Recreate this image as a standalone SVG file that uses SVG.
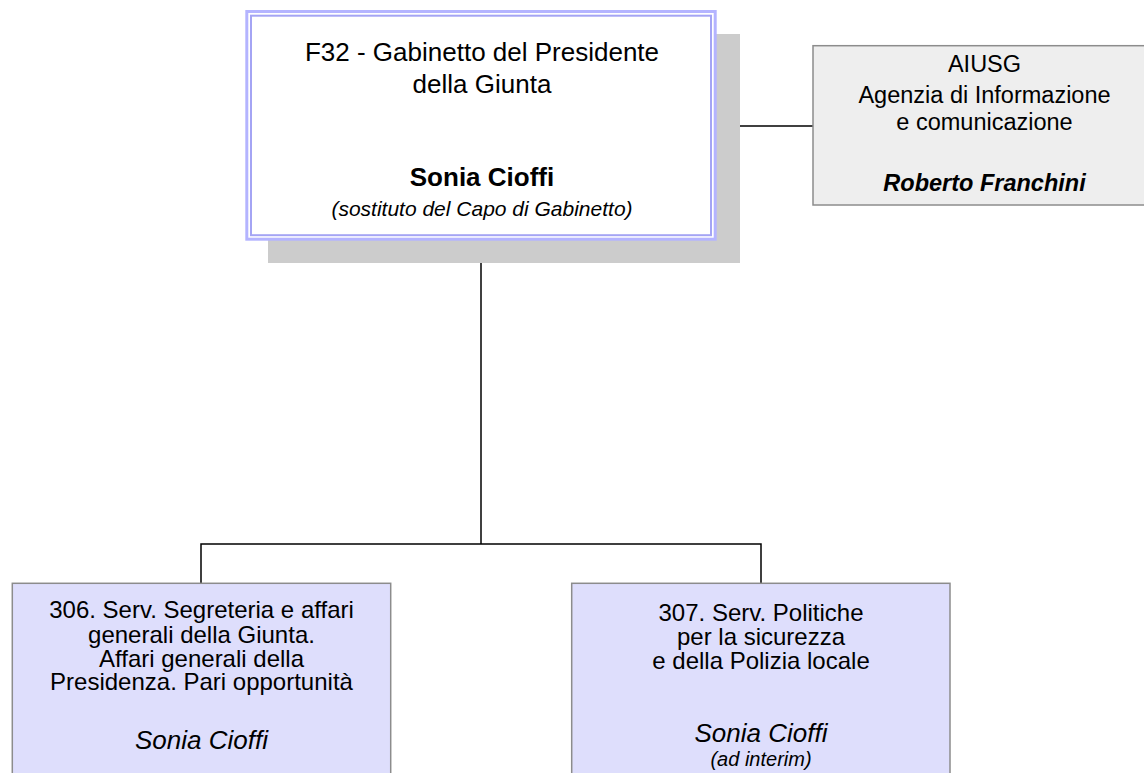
<svg xmlns="http://www.w3.org/2000/svg" width="1144" height="773" viewBox="0 0 1144 773">
<style>
text{font-family:"Liberation Sans",Arial,sans-serif;fill:#000;text-anchor:middle}
.t26{font-size:26px}
.t24{font-size:24px}
.t23{font-size:23.5px}
.sm{font-size:21px;font-style:italic}
.xs{font-size:20px;font-style:italic}
.b{font-weight:bold}
.i{font-style:italic}
.unit{fill:#dedefc;stroke:#8c8c8c;stroke-width:1.5}
.conn{fill:none;stroke:#000;stroke-width:1.5}
</style>
<rect width="1144" height="773" fill="#fff"/>
<g id="connectors">
<line class="conn" x1="481" y1="240" x2="481" y2="544"/>
<polyline class="conn" points="201,583 201,544 761,544 761,583"/>
<line class="conn" x1="740" y1="126" x2="813" y2="126"/>
</g>
<g id="f32">
<rect x="268" y="34" width="472" height="229" fill="#cccccc"/>
<rect x="246.8" y="11.5" width="468.4" height="227.7" fill="#fff" stroke="#b4b4ff" stroke-width="3"/>
<rect x="251" y="15.7" width="460" height="219.5" fill="none" stroke="#a4a4f4" stroke-width="2"/>
<text class="t26" x="482" y="61">F32 - Gabinetto del Presidente</text>
<text class="t26" x="482" y="93">della Giunta</text>
<text class="t26 b" x="482" y="186">Sonia Cioffi</text>
<text class="sm" x="482" y="216">(sostituto del Capo di Gabinetto)</text>
</g>
<g id="aiusg">
<rect x="813" y="45.7" width="345" height="159.3" fill="#eeeeee" stroke="#8c8c8c" stroke-width="1.5"/>
<text class="t23" x="984.5" y="72">AIUSG</text>
<text class="t23" x="984.5" y="103">Agenzia di Informazione</text>
<text class="t23" x="984.5" y="130">e comunicazione</text>
<text class="t23 b i" x="984.5" y="191">Roberto Franchini</text>
</g>
<g id="s306">
<rect class="unit" x="12.3" y="583.3" width="378.4" height="200"/>
<text class="t24" x="201.5" y="618">306. Serv. Segreteria e affari</text>
<text class="t24" x="201.5" y="643">generali della Giunta.</text>
<text class="t24" x="201.5" y="667">Affari generali della</text>
<text class="t24" x="201.5" y="690">Presidenza. Pari opportunità</text>
<text class="t26 i" x="201.5" y="749">Sonia Cioffi</text>
</g>
<g id="s307">
<rect class="unit" x="571.7" y="583.3" width="378.3" height="200"/>
<text class="t24" x="761" y="621">307. Serv. Politiche</text>
<text class="t24" x="761" y="645">per la sicurezza</text>
<text class="t24" x="761" y="669">e della Polizia locale</text>
<text class="t26 i" x="761" y="742">Sonia Cioffi</text>
<text class="xs" x="761" y="766">(ad interim)</text>
</g>
</svg>
